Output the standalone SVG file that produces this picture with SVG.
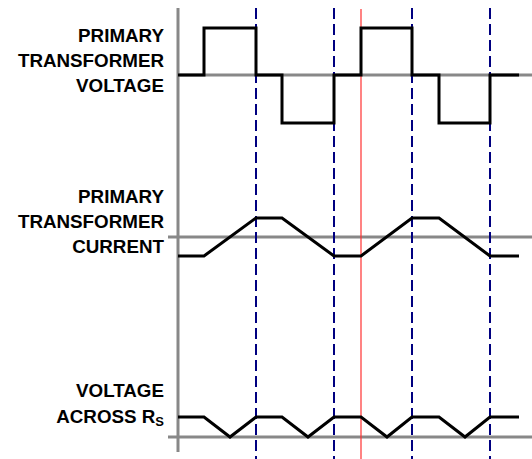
<svg xmlns="http://www.w3.org/2000/svg" width="532" height="459" viewBox="0 0 532 459">
<style>
.axis{stroke:#888;stroke-width:3;fill:none}
.wave{stroke:#000;stroke-width:3;fill:none;stroke-linejoin:miter;stroke-linecap:butt}
.mark{stroke:#000080;stroke-width:2;stroke-dasharray:11 5;fill:none}
.ref{stroke:#ff3030;stroke-width:1.2;fill:none}
.lbl{font-family:"Liberation Sans",Arial,sans-serif;font-weight:bold;font-size:18.8px;fill:#000;text-anchor:end}
</style>
<rect width="532" height="459" fill="#fff"/>
<g id="axes">
<line class="axis" x1="178" y1="8" x2="178" y2="452"/>
<line class="axis" x1="178" y1="75" x2="532" y2="75"/>
<line class="axis" x1="168" y1="237" x2="532" y2="237"/>
<line class="axis" x1="168" y1="437" x2="532" y2="437"/>
</g>
<g id="connectors">
<line class="mark" x1="256" y1="8" x2="256" y2="459"/>
<line class="mark" x1="334" y1="8" x2="334" y2="459"/>
<line class="mark" x1="412" y1="8" x2="412" y2="459"/>
<line class="mark" x1="490" y1="8" x2="490" y2="459"/>
<line class="ref" x1="361" y1="9" x2="361" y2="459"/>
</g>
<g id="voltage-wave">
<polyline class="wave" points="178,75 204,75 204,28 256,28 256,75 282,75 282,123 334,123 334,75 361,75 361,28 412,28 412,75 439,75 439,123 490,123 490,75 519,75"/>
</g>
<g id="current-wave">
<polyline class="wave" points="178,256 204,256 256,218 282,218 334,256 361,256 412,218 439,218 490,256 519,256"/>
</g>
<g id="rs-wave">
<polyline class="wave" points="178,417 204,417 230,437 256,417 282,417 308,437 334,417 361,417 387,437 412,417 439,417 465,437 490,417 519,417"/>
</g>
<g id="label-voltage">
<text class="lbl" x="164" y="42">PRIMARY</text>
<text class="lbl" x="164" y="67">TRANSFORMER</text>
<text class="lbl" x="164" y="92">VOLTAGE</text>
</g>
<g id="label-current">
<text class="lbl" x="164" y="203">PRIMARY</text>
<text class="lbl" x="164" y="228">TRANSFORMER</text>
<text class="lbl" x="164" y="253">CURRENT</text>
</g>
<g id="label-rs">
<text class="lbl" x="164" y="397">VOLTAGE</text>
<text class="lbl" x="164" y="423">ACROSS R<tspan font-size="13" dy="3">S</tspan></text>
</g>
</svg>
